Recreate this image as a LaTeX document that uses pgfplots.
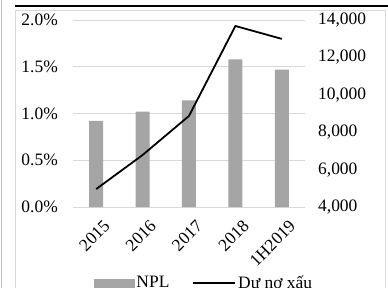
\documentclass[border=0pt]{standalone}
\usepackage{pgfplots}
\pgfplotsset{compat=1.18}
\usepackage{fontspec}
\setmainfont{Liberation Serif}
\definecolor{bargray}{HTML}{A5A5A5}
\definecolor{gridgray}{HTML}{D9D9D9}
\begin{document}
\begin{tikzpicture}[x=1bp,y=1bp]
\useasboundingbox (0,0) rectangle (388,288);
\clip (0,0) rectangle (388,288);
\draw[black, line width=2.4bp] (15,282) -- (388,282);
\draw[gray!50, line width=0.8bp] (1.5,0) -- (1.5,288);
\draw[gridgray, line width=0.8bp] (15,-5) -- (15,278) -- (385,278) -- (385,-5);
\begin{axis}[
  at={(73bp,81bp)}, anchor=south west,
  scale only axis, width=232bp, height=187bp,
  xmin=-0.5, xmax=4.5, ymin=0, ymax=2,
  ytick={0,0.5,1,1.5,2},
  yticklabel={\pgfmathprintnumber[fixed,fixed zerofill,precision=1,assume math mode=true]{\tick}\%},
  xtick={0,1,2,3,4},
  xticklabels={2015,2016,2017,2018,1H2019},
  axis line style={draw=none},
  ymajorgrids, grid style={gridgray, line width=0.8bp},
  major tick length=0,
  tick label style={font=\fontsize{17.5}{20}\selectfont},
  yticklabel style={anchor=east, inner sep=0pt, xshift=-15bp},
  xticklabel style={rotate=45, anchor=north east, inner sep=0pt, xshift=-4bp, yshift=-13bp},
  clip=false,
]
\addplot[ybar, bar width=14bp, fill=bargray, draw=none] coordinates {(0,0.92) (1,1.02) (2,1.14) (3,1.58) (4,1.47)};
\end{axis}
\begin{axis}[
  at={(73bp,81bp)}, anchor=south west,
  scale only axis, width=232bp, height=187bp,
  xmin=-0.5, xmax=4.5, ymin=4000, ymax=14000,
  ytick={4000,6000,8000,10000,12000,14000},
  scaled y ticks=false,
  axis line style={draw=none},
  xtick=\empty,
  axis y line*=right,
  major tick length=0,
  /pgf/number format/.cd, 1000 sep={,}, assume math mode=true, /pgfplots/.cd,
  tick label style={font=\fontsize{17.5}{20}\selectfont},
  yticklabel style={anchor=west, inner sep=0pt, xshift=13bp},
  legend style={at={(0.09,-0.405)}, anchor=west, draw=none, fill=none, inner xsep=0pt, inner ysep=0pt,
    font=\fontsize{17.5}{20}\selectfont, legend columns=2,
    /tikz/every even column/.append style={column sep=21bp}},
  legend cell align=left,
  clip=false,
]
\addlegendimage{legend image code/.code={\fill[bargray] (0bp,-4bp) rectangle (40bp,4bp);}}
\addlegendentry{NPL}
\addplot[black, line width=1.8bp, mark=none, legend image code/.code={\draw[black, line width=1.8bp] (0bp,0bp) -- (42bp,0bp);}] coordinates {(0,4960) (1,6780) (2,8870) (3,13680) (4,12990)};
\addlegendentry{Dư nợ xấu}
\end{axis}
\end{tikzpicture}
\end{document}
